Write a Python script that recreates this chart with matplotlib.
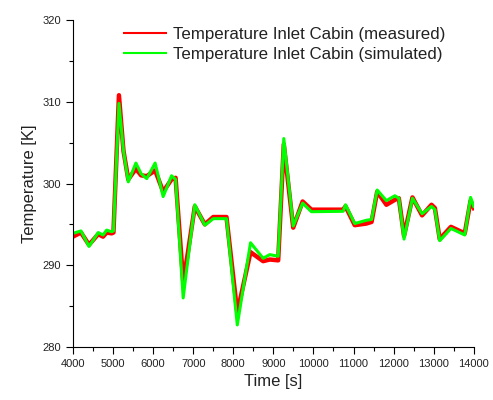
import matplotlib.pyplot as plt
from matplotlib.ticker import MultipleLocator

# Inlet cabin temperature: measured vs simulated
time_s = [4000, 4200, 4400, 4630, 4750, 4840, 4965, 5010, 5147, 5260, 5380,
          5570, 5700, 5840, 6050, 6250, 6460, 6560, 6750, 6850, 7040, 7290,
          7500, 7830, 8100, 8430, 8745, 8910, 9120, 9260, 9495, 9730, 9950,
          10740, 10800, 11030, 11320, 11450, 11590, 11820, 12030, 12130,
          12260, 12470, 12710, 12945, 13030, 13150, 13430, 13775, 13920, 14000]

temp_measured = [293.5, 294.0, 292.5, 293.8, 293.5, 294.0, 293.9, 294.0, 310.8,
                 304.0, 300.5, 301.8, 301.0, 300.9, 301.6, 299.0, 300.5, 300.7,
                 288.0, 291.0, 297.2, 295.0, 295.9, 295.9, 284.2, 291.6, 290.5,
                 290.7, 290.6, 304.8, 294.6, 297.8, 296.8, 296.8, 297.2, 294.9,
                 295.1, 295.3, 299.0, 297.4, 298.0, 298.2, 293.6, 298.3, 296.1,
                 297.4, 297.0, 293.2, 294.7, 293.9, 297.9, 297.0]

temp_simulated = [293.9, 294.2, 292.3, 294.0, 293.7, 294.3, 294.1, 294.2, 309.8,
                  304.0, 300.2, 302.5, 301.2, 300.6, 302.5, 298.4, 300.95, 300.5,
                  286.0, 290.0, 297.4, 294.9, 295.7, 295.7, 282.7, 292.75, 290.85,
                  291.3, 291.1, 305.5, 294.8, 297.6, 296.55, 296.6, 297.4, 295.1,
                  295.5, 295.6, 299.2, 297.9, 298.5, 298.2, 293.2, 298.2, 296.3,
                  297.2, 296.8, 293.0, 294.5, 293.7, 298.3, 297.2]

plt.rcParams['font.family'] = ['Liberation Sans', 'DejaVu Sans']
text_col = '#222222'

fig = plt.figure(figsize=(4.93, 4.00), dpi=100)
ax = fig.add_axes([0.148, 0.1325, 0.813, 0.8175])

ax.plot(time_s, temp_measured, color='#ff0000', lw=3.2,
        label='Temperature Inlet Cabin (measured)')
ax.plot(time_s, temp_simulated, color='#00ff00', lw=2.2,
        label='Temperature Inlet Cabin (simulated)')

ax.set_xlim(4000, 14000)
ax.set_ylim(280, 320)
ax.xaxis.set_major_locator(MultipleLocator(1000))
ax.xaxis.set_minor_locator(MultipleLocator(500))
ax.yaxis.set_major_locator(MultipleLocator(10))
ax.yaxis.set_minor_locator(MultipleLocator(5))
ax.tick_params(which='major', direction='out', length=5, width=0.8,
               labelsize=8, labelcolor=text_col)
ax.tick_params(which='minor', direction='out', length=3, width=0.8)

ax.spines['top'].set_visible(False)
ax.spines['right'].set_visible(False)

ax.set_xlabel('Time [s]', fontsize=12, color=text_col)
ax.set_ylabel('Temperature [K]', fontsize=12, color=text_col)

leg = ax.legend(loc='upper left', bbox_to_anchor=(0.127, 0.978), frameon=False,
                fontsize=12.2, handlelength=2.5, handletextpad=0.4,
                borderpad=0, borderaxespad=0, labelspacing=0.27)
for line in leg.get_lines():
    line.set_linewidth(1.5)
for txt in leg.get_texts():
    txt.set_color(text_col)

fig.savefig('out.png', dpi=100)
